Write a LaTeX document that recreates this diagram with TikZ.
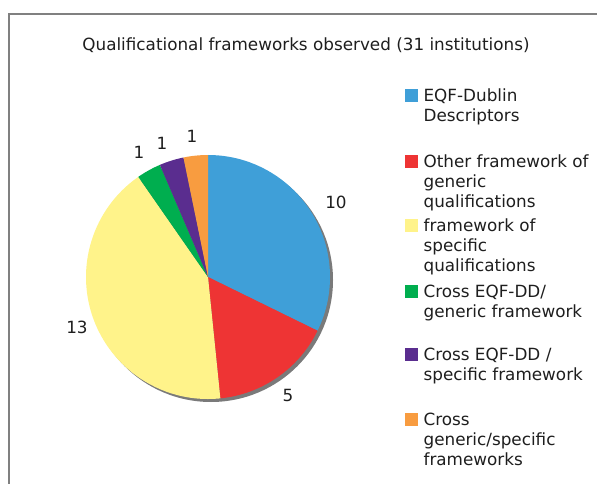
\documentclass[tikz,border=0pt]{standalone}
\usepackage{fontspec}
\setmainfont{DejaVu Sans}
\usetikzlibrary{positioning}
\usepackage{xcolor}
\definecolor{eqfblue}{HTML}{3F9FD8}
\definecolor{genred}{HTML}{EE3434}
\definecolor{specyellow}{HTML}{FFF38A}
\definecolor{crossgreen}{HTML}{00AE4F}
\definecolor{crosspurple}{HTML}{5A2D8F}
\definecolor{crossorange}{HTML}{F89C40}
\definecolor{framegray}{HTML}{808080}
\definecolor{shadegray}{HTML}{7A7A7A}
\definecolor{inkgray}{HTML}{1E1E1E}
\tikzstyle{swatch} = [rectangle, minimum size=13pt, inner sep=0pt, anchor=north west]
\tikzstyle{legtext} = [align=left, inner sep=0pt, text=inkgray]
\tikzstyle{count} = [inner sep=0pt, text=inkgray]

\begin{document}
\begin{tikzpicture}[x=1pt, y=-1pt, node distance=5pt]
    \tikzset{font={\fontsize{16.8pt}{20pt}\selectfont}}
    \useasboundingbox (0,0) rectangle (597,484);
    % frame
    \draw [framegray, line width=1.4pt] (9,484) -- (9,14) -- (597,14);
    \node [count] (title) at (306,45) {Qualificational frameworks observed (31 institutions)};

    % pie with shadow
    \coordinate (c) at (208,277);
    \fill [shadegray] (211,280) circle[radius=122];
    \fill [eqfblue] (c) -- ++(-90:122) arc[start angle=-90, end angle=26.129, radius=122] -- cycle;
    \fill [genred] (c) -- ++(26.129:122) arc[start angle=26.129, end angle=84.194, radius=122] -- cycle;
    \fill [specyellow] (c) -- ++(84.194:122) arc[start angle=84.194, end angle=235.161, radius=122] -- cycle;
    \fill [crossgreen] (c) -- ++(235.161:122) arc[start angle=235.161, end angle=246.774, radius=122] -- cycle;
    \fill [crosspurple] (c) -- ++(246.774:122) arc[start angle=246.774, end angle=258.387, radius=122] -- cycle;
    \fill [crossorange] (c) -- ++(258.387:122) arc[start angle=258.387, end angle=270, radius=122] -- cycle;

    % counts
    \node [count] (n10) at (336,202) {10};
    \node [count] (n5) at (288,395) {5};
    \node [count] (n13) at (77,327) {13};
    \node [count] (n1a) at (139,152) {1};
    \node [count] (n1b) at (162,143) {1};
    \node [count] (n1c) at (192,136) {1};

    % legend
    \node [swatch, fill=eqfblue] (kblue) at (405,89) {};
    \node [legtext, right=of kblue.north east, anchor=north west] (tblue) {EQF-Dublin\\ Descriptors};
    \node [swatch, fill=genred] (kred) at (405,155) {};
    \node [legtext, right=of kred.north east, anchor=north west] (tred) {Other framework of\\ generic\\ qualifications};
    \node [swatch, fill=specyellow] (kyellow) at (405,219) {};
    \node [legtext, right=of kyellow.north east, anchor=north west] (tyellow) {framework of\\ specific\\ qualifications};
    \node [swatch, fill=crossgreen] (kgreen) at (405,285) {};
    \node [legtext, right=of kgreen.north east, anchor=north west] (tgreen) {Cross EQF-DD/\\ generic framework};
    \node [swatch, fill=crosspurple] (kpurple) at (405,348) {};
    \node [legtext, right=of kpurple.north east, anchor=north west] (tpurple) {Cross EQF-DD /\\ specific framework};
    \node [swatch, fill=crossorange] (korange) at (405,413) {};
    \node [legtext, right=of korange.north east, anchor=north west] (torange) {Cross\\ generic/specific\\ frameworks};
\end{tikzpicture}
\end{document}
